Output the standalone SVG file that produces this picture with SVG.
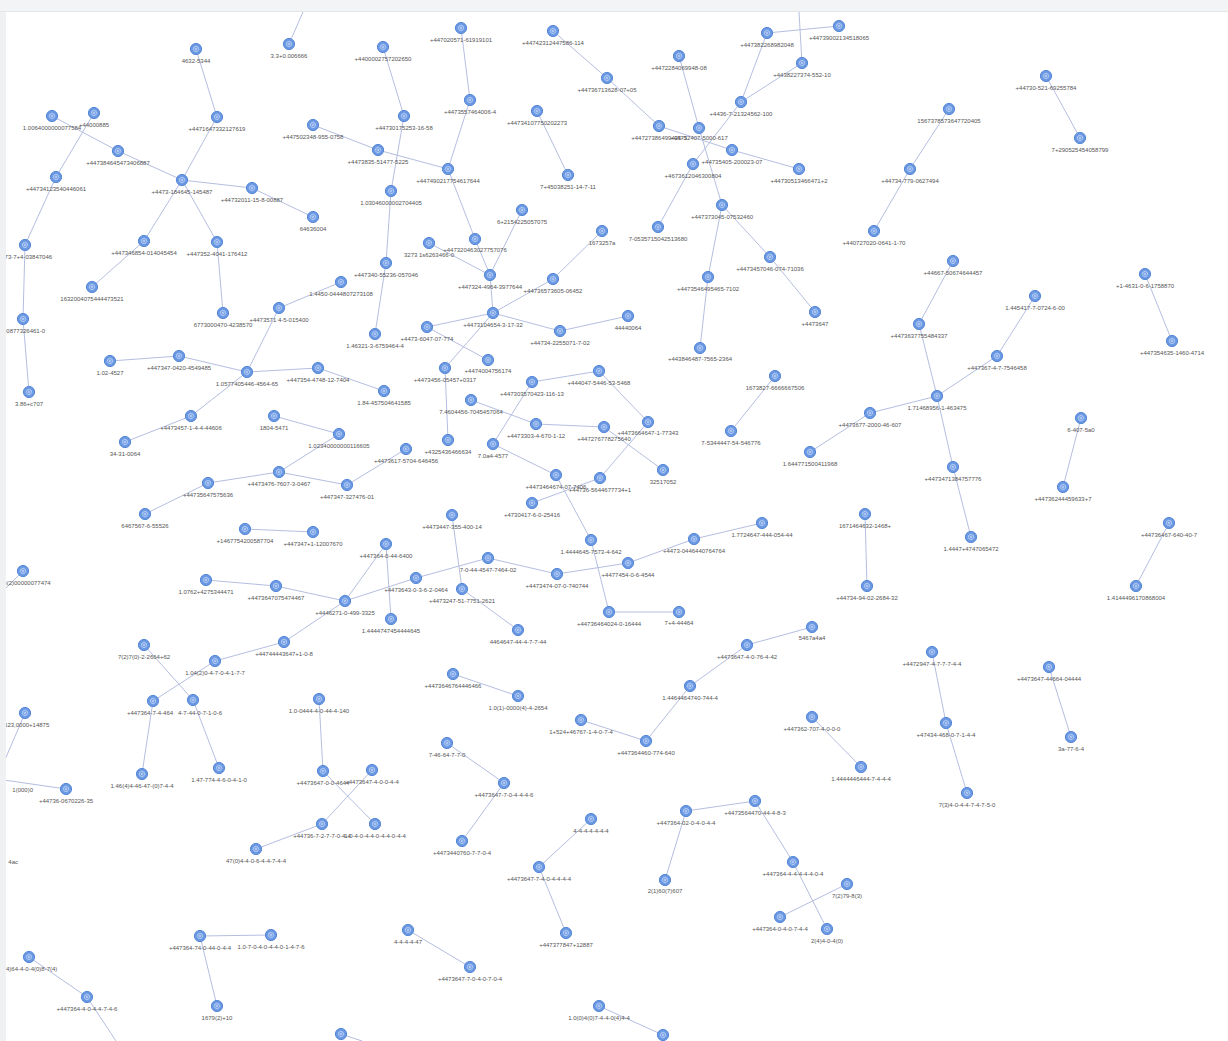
<svg xmlns="http://www.w3.org/2000/svg" xmlns:xlink="http://www.w3.org/1999/xlink" width="1228" height="1041" viewBox="0 0 1228 1041">
<style>
.e path{stroke:#b5bee0;stroke-width:1;fill:none}
.nd text{font-family:"Liberation Sans",Arial,sans-serif;font-size:6px;fill:#555555;text-anchor:middle}
.frag{font-family:"Liberation Sans",Arial,sans-serif;font-size:6px;fill:#555555}
</style>
<defs>
<g id="ic"><circle r="5.6" fill="#6a98e2" stroke="#5688d8" stroke-width="1"/><path d="M0,-2.9 L2.2,-1.8 L2.8,0.7 L1.2,2.6 L-1.2,2.6 L-2.8,0.7 L-2.2,-1.8Z" fill="#7fa8ea" stroke="#d6e3f8" stroke-width="0.6"/><circle r="0.8" fill="#e8effb"/></g>
</defs>
<rect width="1228" height="1041" fill="#ffffff"/>
<g class="e" id="connectors">
<path d="M303 12L289 44"/><path d="M196 49L217 117"/><path d="M217 117L182 180"/><path d="M383 47L404 116"/><path d="M404 116L391 191"/><path d="M391 191L386 263"/><path d="M386 263L375 334"/>
<path d="M461 28L470 100"/><path d="M470 100L448 169"/><path d="M448 169L475 239"/><path d="M475 239L490 275"/><path d="M490 275L493 313"/>
<path d="M313 125L378 150"/><path d="M378 150L448 169"/><path d="M52 116L118 151"/><path d="M118 151L182 180"/><path d="M94 113L56 177"/><path d="M56 177L25 245"/><path d="M25 245L23 319"/><path d="M23 319L29 392"/>
<path d="M182 180L252 188"/><path d="M252 188L313 217"/><path d="M182 180L144 241"/><path d="M144 241L92 287"/><path d="M182 180L217 242"/><path d="M217 242L223 313"/>
<path d="M537 111L568 175"/><path d="M553 31L607 78"/><path d="M607 78L659 126"/><path d="M659 126L732 150"/><path d="M732 150L799 169"/>
<path d="M679 56L699 128"/><path d="M699 128L722 205"/><path d="M767 33L839 26"/><path d="M799 12L802 63"/><path d="M767 33L741 102"/><path d="M802 63L741 102"/><path d="M741 102L693 164"/><path d="M693 164L658 227"/>
<path d="M722 205L708 277"/><path d="M708 277L700 348"/><path d="M722 205L770 257"/><path d="M770 257L815 312"/>
<path d="M522 210L490 275"/><path d="M429 243L490 275"/><path d="M602 231L553 279"/><path d="M553 279L493 313"/><path d="M493 313L427 327"/><path d="M493 313L560 331"/><path d="M560 331L628 316"/><path d="M493 313L445 368"/><path d="M427 327L488 360"/>
<path d="M1046 76L1080 138"/><path d="M949 109L910 169"/><path d="M910 169L874 231"/><path d="M953 261L919 324"/><path d="M919 324L937 396"/><path d="M937 396L953 467"/><path d="M953 467L971 537"/><path d="M997 356L937 396"/><path d="M937 396L870 413"/><path d="M870 413L810 452"/><path d="M1035 296L997 356"/><path d="M1145 274L1172 341"/>
<path d="M279 308L341 282"/><path d="M279 308L247 372"/><path d="M110 361L179 356"/><path d="M179 356L247 372"/><path d="M247 372L318 368"/><path d="M318 368L384 391"/><path d="M247 372L191 416"/><path d="M191 416L125 442"/>
<path d="M274 416L339 434"/><path d="M339 434L279 472"/><path d="M279 472L208 483"/><path d="M208 483L145 514"/><path d="M279 472L347 485"/><path d="M347 485L406 449"/><path d="M245 529L313 532"/><path d="M23 571L4 590"/>
<path d="M206 580L276 586"/><path d="M276 586L345 601"/><path d="M386 544L345 601"/><path d="M386 544L391 619"/><path d="M345 601L416 578"/><path d="M416 578L488 558"/><path d="M488 558L557 574"/><path d="M557 574L628 563"/><path d="M628 563L694 539"/><path d="M694 539L762 523"/>
<path d="M345 601L284 642"/><path d="M284 642L215 661"/><path d="M215 661L153 701"/><path d="M144 645L193 700"/><path d="M452 515L462 589"/><path d="M462 589L518 630"/>
<path d="M445 368L448 440"/><path d="M532 382L599 371"/><path d="M599 371L648 422"/><path d="M648 422L600 478"/><path d="M532 382L493 444"/><path d="M471 400L536 424"/><path d="M536 424L604 427"/><path d="M604 427L663 470"/><path d="M493 444L556 475"/><path d="M556 475L591 540"/><path d="M532 503L600 478"/><path d="M591 540L609 612"/><path d="M609 612L679 612"/>
<path d="M775 376L731 431"/><path d="M1081 418L1063 487"/><path d="M865 514L867 586"/><path d="M1169 523L1136 586"/><path d="M932 652L946 723"/><path d="M946 723L967 793"/><path d="M1049 667L1071 737"/>
<path d="M812 627L747 645"/><path d="M747 645L690 686"/><path d="M690 686L646 741"/><path d="M581 720L646 741"/><path d="M453 674L518 696"/><path d="M812 717L861 767"/>
<path d="M319 699L323 771"/><path d="M323 771L375 824"/><path d="M372 770L322 824"/><path d="M322 824L256 849"/><path d="M447 743L504 783"/><path d="M504 783L462 841"/><path d="M591 819L539 867"/><path d="M539 867L566 933"/>
<path d="M686 811L755 801"/><path d="M686 811L665 880"/><path d="M755 801L793 862"/><path d="M793 862L827 929"/><path d="M847 884L780 917"/><path d="M408 930L470 967"/><path d="M200 936L271 935"/><path d="M200 936L217 1006"/><path d="M29 957L87 997"/><path d="M87 997L116 1041"/><path d="M599 1006L663 1035"/><path d="M341 1034L362 1041"/>
<path d="M25 713L4 762"/><path d="M4 780L66 789"/><path d="M153 701L142 774"/><path d="M193 700L219 768"/>
</g>
<g id="n1" class="nd"><use href="#ic" x="289" y="44"/><text x="289" y="58">3.3+0.006666</text></g>
<g id="n2" class="nd"><use href="#ic" x="196" y="49"/><text x="196" y="63">4632-5344</text></g>
<g id="n3" class="nd"><use href="#ic" x="383" y="47"/><text x="383" y="61">+4400002757202650</text></g>
<g id="n4" class="nd"><use href="#ic" x="461" y="28"/><text x="461" y="42">+447020571-61919101</text></g>
<g id="n5" class="nd"><use href="#ic" x="553" y="31"/><text x="553" y="45">+44742312447586-114</text></g>
<g id="n6" class="nd"><use href="#ic" x="679" y="56"/><text x="679" y="70">+4472284069948-08</text></g>
<g id="n7" class="nd"><use href="#ic" x="767" y="33"/><text x="767" y="47">+447382268982048</text></g>
<g id="n8" class="nd"><use href="#ic" x="839" y="26"/><text x="839" y="40">+44739002134518065</text></g>
<g id="n9" class="nd"><use href="#ic" x="802" y="63"/><text x="802" y="77">+4438227374-552-10</text></g>
<g id="n10" class="nd"><use href="#ic" x="607" y="78"/><text x="607" y="92">+44736713628-07+05</text></g>
<g id="n11" class="nd"><use href="#ic" x="52" y="116"/><text x="52" y="130">1.0064000000077584</text></g>
<g id="n12" class="nd"><use href="#ic" x="94" y="113"/><text x="94" y="127">+44000885</text></g>
<g id="n13" class="nd"><use href="#ic" x="217" y="117"/><text x="217" y="131">+4471647332127619</text></g>
<g id="n14" class="nd"><use href="#ic" x="313" y="125"/><text x="313" y="139">+447502348-955-0758</text></g>
<g id="n15" class="nd"><use href="#ic" x="404" y="116"/><text x="404" y="130">+44730175253-16-58</text></g>
<g id="n16" class="nd"><use href="#ic" x="470" y="100"/><text x="470" y="114">+4473557464006-4</text></g>
<g id="n17" class="nd"><use href="#ic" x="537" y="111"/><text x="537" y="125">+44734107750202273</text></g>
<g id="n18" class="nd"><use href="#ic" x="741" y="102"/><text x="741" y="116">+4436-7-21324562-100</text></g>
<g id="n19" class="nd"><use href="#ic" x="659" y="126"/><text x="659" y="140">+44727386499425-5</text></g>
<g id="n20" class="nd"><use href="#ic" x="699" y="128"/><text x="699" y="140">+44732407-5000-617</text></g>
<g id="n21" class="nd"><use href="#ic" x="1046" y="76"/><text x="1046" y="90">+44730-521-69255784</text></g>
<g id="n22" class="nd"><use href="#ic" x="949" y="109"/><text x="949" y="123">1567378573647720405</text></g>
<g id="n23" class="nd"><use href="#ic" x="1080" y="138"/><text x="1080" y="152">7+290525454058799</text></g>
<g id="n24" class="nd"><use href="#ic" x="118" y="151"/><text x="118" y="165">+447384645473406887</text></g>
<g id="n25" class="nd"><use href="#ic" x="378" y="150"/><text x="378" y="164">+4473835-51477-5225</text></g>
<g id="n26" class="nd"><use href="#ic" x="448" y="169"/><text x="448" y="183">+447490217754617644</text></g>
<g id="n27" class="nd"><use href="#ic" x="568" y="175"/><text x="568" y="189">7+45038251-14-7-11</text></g>
<g id="n28" class="nd"><use href="#ic" x="732" y="150"/><text x="732" y="164">+44735405-200023-07</text></g>
<g id="n29" class="nd"><use href="#ic" x="693" y="164"/><text x="693" y="178">+4673612046300804</text></g>
<g id="n30" class="nd"><use href="#ic" x="799" y="169"/><text x="799" y="183">+44730513466471+2</text></g>
<g id="n31" class="nd"><use href="#ic" x="910" y="169"/><text x="910" y="183">+44734-779-0627494</text></g>
<g id="n32" class="nd"><use href="#ic" x="56" y="177"/><text x="56" y="191">+44734123540446061</text></g>
<g id="n33" class="nd"><use href="#ic" x="182" y="180"/><text x="182" y="194">+4473-184645-145487</text></g>
<g id="n34" class="nd"><use href="#ic" x="252" y="188"/><text x="252" y="202">+44732011-15-8-00887</text></g>
<g id="n35" class="nd"><use href="#ic" x="391" y="191"/><text x="391" y="205">1.03046000002704405</text></g>
<g id="n36" class="nd"><use href="#ic" x="313" y="217"/><text x="313" y="231">64636004</text></g>
<g id="n37" class="nd"><use href="#ic" x="522" y="210"/><text x="522" y="224">6+2154225057075</text></g>
<g id="n38" class="nd"><use href="#ic" x="722" y="205"/><text x="722" y="219">+447373045-07532460</text></g>
<g id="n39" class="nd"><use href="#ic" x="602" y="231"/><text x="602" y="245">1673257a</text></g>
<g id="n40" class="nd"><use href="#ic" x="658" y="227"/><text x="658" y="241">7-0535715042513680</text></g>
<g id="n41" class="nd"><use href="#ic" x="874" y="231"/><text x="874" y="245">+440727020-0641-1-70</text></g>
<g id="n42" class="nd"><use href="#ic" x="25" y="245"/><text x="25" y="259">3273-7+4-03847046</text></g>
<g id="n43" class="nd"><use href="#ic" x="144" y="241"/><text x="144" y="255">+447346854-014045454</text></g>
<g id="n44" class="nd"><use href="#ic" x="217" y="242"/><text x="217" y="256">+447352-4041-176412</text></g>
<g id="n45" class="nd"><use href="#ic" x="475" y="239"/><text x="475" y="252">+447320463027757076</text></g>
<g id="n46" class="nd"><use href="#ic" x="429" y="243"/><text x="429" y="257">3273 1s6263466-0</text></g>
<g id="n47" class="nd"><use href="#ic" x="386" y="263"/><text x="386" y="277">+447340-55236-057046</text></g>
<g id="n48" class="nd"><use href="#ic" x="770" y="257"/><text x="770" y="271">+4473457046-074-71036</text></g>
<g id="n49" class="nd"><use href="#ic" x="953" y="261"/><text x="953" y="275">+44667-50674644457</text></g>
<g id="n50" class="nd"><use href="#ic" x="1145" y="274"/><text x="1145" y="288">+1-4631-0-6-1758870</text></g>
<g id="n51" class="nd"><use href="#ic" x="490" y="275"/><text x="490" y="289">+447324-4964-3977644</text></g>
<g id="n52" class="nd"><use href="#ic" x="553" y="279"/><text x="553" y="293">+44736573605-06452</text></g>
<g id="n53" class="nd"><use href="#ic" x="708" y="277"/><text x="708" y="291">+4473546495465-7102</text></g>
<g id="n54" class="nd"><use href="#ic" x="92" y="287"/><text x="92" y="301">1632004075444473521</text></g>
<g id="n55" class="nd"><use href="#ic" x="341" y="282"/><text x="341" y="296">1.4450-0444807273108</text></g>
<g id="n56" class="nd"><use href="#ic" x="1035" y="296"/><text x="1035" y="310">1.445417-7-0724-6-00</text></g>
<g id="n57" class="nd"><use href="#ic" x="279" y="308"/><text x="279" y="322">+4473571 4-5-015400</text></g>
<g id="n58" class="nd"><use href="#ic" x="223" y="313"/><text x="223" y="327">6773000470-4238570</text></g>
<g id="n59" class="nd"><use href="#ic" x="23" y="319"/><text x="23" y="333">8-0877326461-0</text></g>
<g id="n60" class="nd"><use href="#ic" x="493" y="313"/><text x="493" y="327">+4473104654-3-17-32</text></g>
<g id="n61" class="nd"><use href="#ic" x="628" y="316"/><text x="628" y="330">44440064</text></g>
<g id="n62" class="nd"><use href="#ic" x="815" y="312"/><text x="815" y="326">+4473647</text></g>
<g id="n63" class="nd"><use href="#ic" x="427" y="327"/><text x="427" y="341">+4473-6047-07-774</text></g>
<g id="n64" class="nd"><use href="#ic" x="560" y="331"/><text x="560" y="345">+44734-2255071-7-02</text></g>
<g id="n65" class="nd"><use href="#ic" x="919" y="324"/><text x="919" y="338">+4473637755484337</text></g>
<g id="n66" class="nd"><use href="#ic" x="375" y="334"/><text x="375" y="348">1.46321-3-6759464-4</text></g>
<g id="n67" class="nd"><use href="#ic" x="1172" y="341"/><text x="1172" y="355">+447354635-1460-4714</text></g>
<g id="n68" class="nd"><use href="#ic" x="700" y="348"/><text x="700" y="361">+443846487-7565-2364</text></g>
<g id="n69" class="nd"><use href="#ic" x="997" y="356"/><text x="997" y="370">+447367-4-7-7546458</text></g>
<g id="n70" class="nd"><use href="#ic" x="110" y="361"/><text x="110" y="375">1.02-4527</text></g>
<g id="n71" class="nd"><use href="#ic" x="179" y="356"/><text x="179" y="370">+447347-0420-4549485</text></g>
<g id="n72" class="nd"><use href="#ic" x="247" y="372"/><text x="247" y="386">1.0577405446-4564-65</text></g>
<g id="n73" class="nd"><use href="#ic" x="318" y="368"/><text x="318" y="382">+447354-4748-12-7404</text></g>
<g id="n74" class="nd"><use href="#ic" x="488" y="360"/><text x="488" y="373">+4474004756174</text></g>
<g id="n75" class="nd"><use href="#ic" x="445" y="368"/><text x="445" y="382">+4473456-05457+0317</text></g>
<g id="n76" class="nd"><use href="#ic" x="599" y="371"/><text x="599" y="385">+444047-5446-53-5468</text></g>
<g id="n77" class="nd"><use href="#ic" x="532" y="382"/><text x="532" y="396">+447303570423-116-13</text></g>
<g id="n78" class="nd"><use href="#ic" x="775" y="376"/><text x="775" y="390">1673827-6666667506</text></g>
<g id="n79" class="nd"><use href="#ic" x="384" y="391"/><text x="384" y="405">1.84-457504641585</text></g>
<g id="n80" class="nd"><use href="#ic" x="29" y="392"/><text x="29" y="406">3.86+c707</text></g>
<g id="n81" class="nd"><use href="#ic" x="937" y="396"/><text x="937" y="410">1.71468956-1-463475</text></g>
<g id="n82" class="nd"><use href="#ic" x="471" y="400"/><text x="471" y="414">7.4604456-7045457064</text></g>
<g id="n83" class="nd"><use href="#ic" x="191" y="416"/><text x="191" y="430">+4473457-1-4-4-44606</text></g>
<g id="n84" class="nd"><use href="#ic" x="274" y="416"/><text x="274" y="430">1804-5471</text></g>
<g id="n85" class="nd"><use href="#ic" x="870" y="413"/><text x="870" y="427">+4473677-2000-46-607</text></g>
<g id="n86" class="nd"><use href="#ic" x="1081" y="418"/><text x="1081" y="432">6-407-5a0</text></g>
<g id="n87" class="nd"><use href="#ic" x="536" y="424"/><text x="536" y="438">+4473303-4-670-1-12</text></g>
<g id="n88" class="nd"><use href="#ic" x="604" y="427"/><text x="604" y="441">+447276778275640</text></g>
<g id="n89" class="nd"><use href="#ic" x="648" y="422"/><text x="648" y="435">+4473664647-1-77343</text></g>
<g id="n90" class="nd"><use href="#ic" x="731" y="431"/><text x="731" y="445">7-5344447-54-546776</text></g>
<g id="n91" class="nd"><use href="#ic" x="339" y="434"/><text x="339" y="448">1.02340000000116605</text></g>
<g id="n92" class="nd"><use href="#ic" x="125" y="442"/><text x="125" y="456">34-31-0064</text></g>
<g id="n93" class="nd"><use href="#ic" x="448" y="440"/><text x="448" y="454">+4325436466634</text></g>
<g id="n94" class="nd"><use href="#ic" x="406" y="449"/><text x="406" y="463">+4473617-5704-646456</text></g>
<g id="n95" class="nd"><use href="#ic" x="493" y="444"/><text x="493" y="458">7.0a4-4577</text></g>
<g id="n96" class="nd"><use href="#ic" x="810" y="452"/><text x="810" y="466">1.644771500411968</text></g>
<g id="n97" class="nd"><use href="#ic" x="953" y="467"/><text x="953" y="481">+4473471384757776</text></g>
<g id="n98" class="nd"><use href="#ic" x="663" y="470"/><text x="663" y="484">32517052</text></g>
<g id="n99" class="nd"><use href="#ic" x="279" y="472"/><text x="279" y="486">+4473476-7607-3-0467</text></g>
<g id="n100" class="nd"><use href="#ic" x="556" y="475"/><text x="556" y="489">+4473464674-07-7406</text></g>
<g id="n101" class="nd"><use href="#ic" x="600" y="478"/><text x="600" y="492">+44736-5644677734+1</text></g>
<g id="n102" class="nd"><use href="#ic" x="208" y="483"/><text x="208" y="497">+44735647575636</text></g>
<g id="n103" class="nd"><use href="#ic" x="347" y="485"/><text x="347" y="499">+447347-327476-01</text></g>
<g id="n104" class="nd"><use href="#ic" x="1063" y="487"/><text x="1063" y="501">+44736244459633+7</text></g>
<g id="n105" class="nd"><use href="#ic" x="532" y="503"/><text x="532" y="517">+4730417-6-0-25416</text></g>
<g id="n106" class="nd"><use href="#ic" x="145" y="514"/><text x="145" y="528">6467567-6-55526</text></g>
<g id="n107" class="nd"><use href="#ic" x="452" y="515"/><text x="452" y="529">+4473447-355-400-14</text></g>
<g id="n108" class="nd"><use href="#ic" x="865" y="514"/><text x="865" y="528">1671464632-1468+</text></g>
<g id="n109" class="nd"><use href="#ic" x="245" y="529"/><text x="245" y="543">+1467754200587704</text></g>
<g id="n110" class="nd"><use href="#ic" x="313" y="532"/><text x="313" y="546">+447347+1-12007670</text></g>
<g id="n111" class="nd"><use href="#ic" x="971" y="537"/><text x="971" y="551">1.4447+4747065472</text></g>
<g id="n112" class="nd"><use href="#ic" x="762" y="523"/><text x="762" y="537">1.7724647-444-054-44</text></g>
<g id="n113" class="nd"><use href="#ic" x="1169" y="523"/><text x="1169" y="537">+44736467-640-40-7</text></g>
<g id="n114" class="nd"><use href="#ic" x="591" y="540"/><text x="591" y="554">1.4444645-7573-4-642</text></g>
<g id="n115" class="nd"><use href="#ic" x="694" y="539"/><text x="694" y="553">+4473-0446440764764</text></g>
<g id="n116" class="nd"><use href="#ic" x="386" y="544"/><text x="386" y="558">+447364-0-44-6400</text></g>
<g id="n117" class="nd"><use href="#ic" x="488" y="558"/><text x="488" y="572">7-0-44-4547-7464-02</text></g>
<g id="n118" class="nd"><use href="#ic" x="628" y="563"/><text x="628" y="577">+4477454-0-6-4544</text></g>
<g id="n119" class="nd"><use href="#ic" x="23" y="571"/><text x="27" y="585">8(2)00000077474</text></g>
<g id="n120" class="nd"><use href="#ic" x="416" y="578"/><text x="416" y="592">+4473643-0-3-6-2-0464</text></g>
<g id="n121" class="nd"><use href="#ic" x="557" y="574"/><text x="557" y="588">+4473474-07-0-740744</text></g>
<g id="n122" class="nd"><use href="#ic" x="206" y="580"/><text x="206" y="594">1.0762+4275344471</text></g>
<g id="n123" class="nd"><use href="#ic" x="276" y="586"/><text x="276" y="600">+4473647075474467</text></g>
<g id="n124" class="nd"><use href="#ic" x="345" y="601"/><text x="345" y="615">+4446271-0-499-3325</text></g>
<g id="n125" class="nd"><use href="#ic" x="462" y="589"/><text x="462" y="603">+4473247-51-7751-2621</text></g>
<g id="n126" class="nd"><use href="#ic" x="867" y="586"/><text x="867" y="600">+44734-94-02-2684-32</text></g>
<g id="n127" class="nd"><use href="#ic" x="1136" y="586"/><text x="1136" y="600">1.4144496170868004</text></g>
<g id="n128" class="nd"><use href="#ic" x="391" y="619"/><text x="391" y="633">1.4444747454444645</text></g>
<g id="n129" class="nd"><use href="#ic" x="609" y="612"/><text x="609" y="626">+44736464024-0-16444</text></g>
<g id="n130" class="nd"><use href="#ic" x="679" y="612"/><text x="679" y="625">7+4-44464</text></g>
<g id="n131" class="nd"><use href="#ic" x="518" y="630"/><text x="518" y="644">4464647-44-4-7-7-44</text></g>
<g id="n132" class="nd"><use href="#ic" x="812" y="627"/><text x="812" y="640">5467a4a4</text></g>
<g id="n133" class="nd"><use href="#ic" x="144" y="645"/><text x="144" y="659">7(2)7(0)-2-2664+62</text></g>
<g id="n134" class="nd"><use href="#ic" x="284" y="642"/><text x="284" y="656">+44744443647+1-0-8</text></g>
<g id="n135" class="nd"><use href="#ic" x="747" y="645"/><text x="747" y="659">+4473647-4-0-76-4-42</text></g>
<g id="n136" class="nd"><use href="#ic" x="932" y="652"/><text x="932" y="666">+4472947-4-7-7-7-4-4</text></g>
<g id="n137" class="nd"><use href="#ic" x="215" y="661"/><text x="215" y="675">1.04(2)0-4-7-0-4-1-7-7</text></g>
<g id="n138" class="nd"><use href="#ic" x="1049" y="667"/><text x="1049" y="681">+4473647-44664-04444</text></g>
<g id="n139" class="nd"><use href="#ic" x="453" y="674"/><text x="453" y="688">+4473646764446466</text></g>
<g id="n140" class="nd"><use href="#ic" x="690" y="686"/><text x="690" y="700">1.4464464740-744-4</text></g>
<g id="n141" class="nd"><use href="#ic" x="518" y="696"/><text x="518" y="710">1.0(1)-0000(4)-4-2654</text></g>
<g id="n142" class="nd"><use href="#ic" x="153" y="701"/><text x="150" y="715">+447364-7-4-464</text></g>
<g id="n143" class="nd"><use href="#ic" x="193" y="700"/><text x="200" y="715">4-7-44-0-7-1-0-6</text></g>
<g id="n144" class="nd"><use href="#ic" x="319" y="699"/><text x="319" y="713">1.0-0444-4-0-44-4-140</text></g>
<g id="n145" class="nd"><use href="#ic" x="25" y="713"/><text x="25" y="727">3523,0000+14875</text></g>
<g id="n146" class="nd"><use href="#ic" x="581" y="720"/><text x="581" y="734">1+524+46767-1-4-0-7-4</text></g>
<g id="n147" class="nd"><use href="#ic" x="646" y="741"/><text x="646" y="755">+447364460-774-640</text></g>
<g id="n148" class="nd"><use href="#ic" x="812" y="717"/><text x="812" y="731">+447362-707-4-0-0-0</text></g>
<g id="n149" class="nd"><use href="#ic" x="946" y="723"/><text x="946" y="737">+47434-468-0-7-1-4-4</text></g>
<g id="n150" class="nd"><use href="#ic" x="1071" y="737"/><text x="1071" y="751">3a-77-6-4</text></g>
<g id="n151" class="nd"><use href="#ic" x="447" y="743"/><text x="447" y="757">7-46-64-7-7-0</text></g>
<g id="n152" class="nd"><use href="#ic" x="142" y="774"/><text x="142" y="788">1.46(4)4-46-47-(0)7-4-4</text></g>
<g id="n153" class="nd"><use href="#ic" x="219" y="768"/><text x="219" y="782">1.47-774-4-6-0-4-1-0</text></g>
<g id="n154" class="nd"><use href="#ic" x="323" y="771"/><text x="323" y="785">+4473647-0-0-4644</text></g>
<g id="n155" class="nd"><use href="#ic" x="372" y="770"/><text x="372" y="784">+4473647-4-0-0-4-4</text></g>
<g id="n156" class="nd"><use href="#ic" x="861" y="767"/><text x="861" y="781">1.4444446444-7-4-4-4</text></g>
<g id="n157" class="nd"><use href="#ic" x="66" y="789"/><text x="66" y="803">+44736-0670226-35</text></g>
<g id="n158" class="nd"><use href="#ic" x="504" y="783"/><text x="504" y="797">+4473647-7-0-4-4-4-6</text></g>
<g id="n159" class="nd"><use href="#ic" x="967" y="793"/><text x="967" y="807">7(3)4-0-4-4-7-4-7-5-0</text></g>
<g id="n160" class="nd"><use href="#ic" x="686" y="811"/><text x="686" y="825">+447364-02-0-4-0-4-4</text></g>
<g id="n161" class="nd"><use href="#ic" x="755" y="801"/><text x="755" y="815">+4473564470-44-4-8-3</text></g>
<g id="n162" class="nd"><use href="#ic" x="591" y="819"/><text x="591" y="833">4-4-4-4-4-4-4</text></g>
<g id="n163" class="nd"><use href="#ic" x="322" y="824"/><text x="322" y="838">+44736-7-2-7-7-0-4-4</text></g>
<g id="n164" class="nd"><use href="#ic" x="375" y="824"/><text x="375" y="838">1.0-4-0-4-4-0-4-4-0-4-4</text></g>
<g id="n165" class="nd"><use href="#ic" x="462" y="841"/><text x="462" y="855">+4473440760-7-7-0-4</text></g>
<g id="n166" class="nd"><use href="#ic" x="256" y="849"/><text x="256" y="863">47(0)4-4-0-6-4-4-7-4-4</text></g>
<g id="n167" class="nd"><use href="#ic" x="793" y="862"/><text x="793" y="876">+447364-4-4-4-4-4-0-4</text></g>
<g id="n168" class="nd"><use href="#ic" x="539" y="867"/><text x="539" y="881">+4473647-7-4-0-4-4-4-4</text></g>
<g id="n169" class="nd"><use href="#ic" x="665" y="880"/><text x="665" y="893">2(1)60(7)607</text></g>
<g id="n170" class="nd"><use href="#ic" x="847" y="884"/><text x="847" y="898">7(2)79-8(3)</text></g>
<g id="n171" class="nd"><use href="#ic" x="780" y="917"/><text x="780" y="931">+447364-0-4-0-7-4-4</text></g>
<g id="n172" class="nd"><use href="#ic" x="827" y="929"/><text x="827" y="943">2(4)4-0-4(0)</text></g>
<g id="n173" class="nd"><use href="#ic" x="408" y="930"/><text x="408" y="944">4-4-4-4-47</text></g>
<g id="n174" class="nd"><use href="#ic" x="200" y="936"/><text x="200" y="950">+447364-74-0-44-0-4-4</text></g>
<g id="n175" class="nd"><use href="#ic" x="271" y="935"/><text x="271" y="949">1.0-7-0-4-0-4-4-0-1-4-7-6</text></g>
<g id="n176" class="nd"><use href="#ic" x="566" y="933"/><text x="566" y="947">+447377847+12887</text></g>
<g id="n177" class="nd"><use href="#ic" x="29" y="957"/><text x="29" y="971">7(4)64-4-0-4(0)8-7(4)</text></g>
<g id="n178" class="nd"><use href="#ic" x="470" y="967"/><text x="470" y="981">+4473647-7-0-4-0-7-0-4</text></g>
<g id="n179" class="nd"><use href="#ic" x="87" y="997"/><text x="87" y="1011">+447364-4-0-4-4-7-4-6</text></g>
<g id="n180" class="nd"><use href="#ic" x="217" y="1006"/><text x="217" y="1020">1679(2)+10</text></g>
<g id="n181" class="nd"><use href="#ic" x="599" y="1006"/><text x="599" y="1020">1.0(0)4(0)7-4-4-0(4)4-4</text></g>
<g id="n182" class="nd"><use href="#ic" x="341" y="1034"/></g>
<g id="n183" class="nd"><use href="#ic" x="663" y="1035"/></g>
<text class="frag" x="33" y="792" text-anchor="end">1(000)0</text>
<text class="frag" x="18" y="864" text-anchor="end">4ac</text>
<rect x="0" y="0" width="1228" height="11" fill="#f3f4f6"/>
<rect x="0" y="11" width="1228" height="1" fill="#e3e5e9"/>
<rect x="0" y="12" width="6" height="1029" fill="#f0f1f3"/>
</svg>
